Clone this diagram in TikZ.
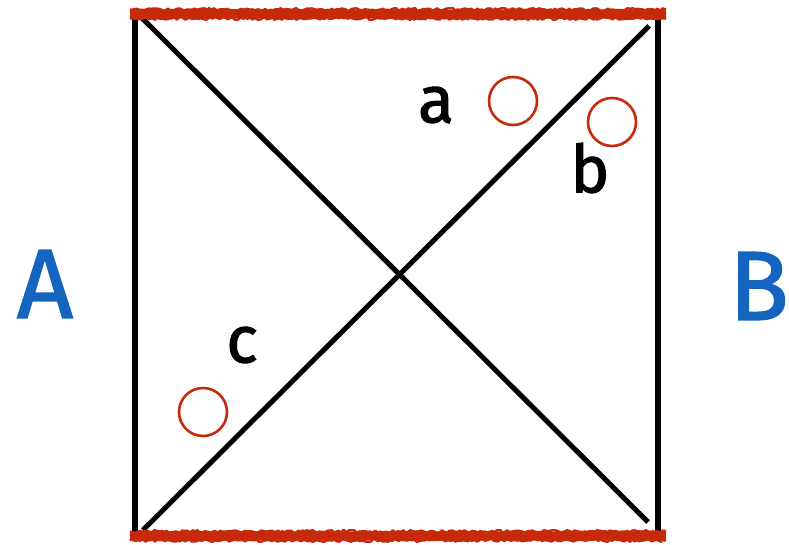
\documentclass[tikz,border=0pt]{standalone}
\usepackage{fontspec}
\setmainfont{Fira Sans}
\newfontfamily\handfont{Fira Sans}[FakeBold=1.6]
\usetikzlibrary{decorations.pathmorphing,calc}
\definecolor{rough}{HTML}{C62A0A}
\definecolor{lblue}{HTML}{1565C0}
\tikzset{
  wall/.style={line width=5.2pt, black},
  ray/.style={line width=5pt, black},
  edge/.style={line width=2.5pt, rough, line join=round, decorate, decoration={random steps, segment length=2.5pt, amplitude=1.3pt}},
  edgecore/.style={line width=8pt, rough},
  ring/.style={circle, draw=rough, line width=2.6pt, minimum size=48pt, inner sep=0pt, fill=white},
  small/.style={inner sep=0pt, font=\handfont\fontsize{66}{66}\selectfont},
  big/.style={inner sep=0pt, text=lblue, font=\handfont\fontsize{98}{98}\selectfont}
}
\begin{document}
\begin{tikzpicture}[x=1pt,y=-1pt]
\useasboundingbox (0,0) rectangle (789,544);
% corners
\coordinate (wl1) at (135,14);
\coordinate (wl2) at (135,535);
\coordinate (wr1) at (658,15);
\coordinate (wr2) at (658,532);
\coordinate (d1s) at (140,16);
\coordinate (d1e) at (648,522);
\coordinate (d2s) at (143,530);
\coordinate (d2e) at (649,26);
\coordinate (tl) at (130,14);
\coordinate (tr) at (666,14);
\coordinate (bl) at (130,536);
\coordinate (br) at (666,536);
% walls and diagonals
\draw[wall] (wl1) -- (wl2);
\draw[wall] (wr1) -- (wr2);
\draw[ray] (d1s) -- (d1e);
\draw[ray] (d2s) -- (d2e);
% rough red edges
\draw[edgecore] (tl) -- (tr);
\draw[edgecore] (bl) -- (br);
\foreach \o in {-4.5,-2,2,4.5}{
  \draw[edge] ($(tl)+(0,\o)$) -- ($(tr)+(0,\o)$);
  \draw[edge] ($(bl)+(0,\o)$) -- ($(br)+(0,\o)$);
}
% circles
\node[ring] (ca) at (513,101) {};
\node[ring] (cb) at (612,122) {};
\node[ring] (cc) at (203,412) {};
% labels
\node[small] (la) at (436,105) {a};
\node[small] (lb) at (590,168) {b};
\node[small] (lc) at (242,345) {c};
\node[big] (lA) at (45,284) {A};
\node[big, anchor=east] (lB) at (789,286) {B};
\end{tikzpicture}
\end{document}
